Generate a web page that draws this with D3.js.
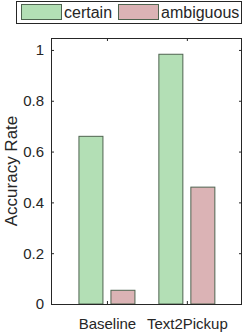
<!DOCTYPE html>
<html>
<head>
<meta charset="utf-8">
<script src="https://d3js.org/d3.v7.min.js"></script>
<style>
  body { margin: 0; background: #fff; }
  text { font-family: "Liberation Sans", Arial, sans-serif; fill: #262626; }
</style>
</head>
<body>
<div id="viz"></div>
<script>
var categories = ['Baseline', 'Text2Pickup'];
var series = ['certain', 'ambiguous'];
var certain = [0.66, 0.983];
var ambiguous = [0.054, 0.46];
var yTicks = [0, 0.2, 0.4, 0.6, 0.8, 1];

var width = 243,
    height = 332,
    plotLeft = 51,
    plotRight = 242,
    plotTop = 38,
    plotBottom = 304,
    barWidth = 24,
    barGap = 8;

var colors = ['#b3dfb5', '#dbb3b5'];
var edge = '#4f6450';

var values = [certain, ambiguous];

var xScale = d3.scaleLinear()
    .domain([0.3, 2.69])
    .range([plotLeft, plotRight]);

var yScale = d3.scaleLinear()
    .domain([0, 1.047])
    .range([plotBottom, plotTop]);

var svg = d3.select('#viz').append('svg')
    .attr('width', width)
    .attr('height', height);

// bars
series.forEach(function(s, si) {
  svg.append('g').selectAll('rect').data(values[si])
    .enter().append('rect')
      .attr('x', function(d, i) {
        var c = xScale(i + 1);
        return si === 0 ? c - barGap / 2 - barWidth : c + barGap / 2;
      })
      .attr('y', function(d) { return yScale(d); })
      .attr('width', barWidth)
      .attr('height', function(d) { return plotBottom - yScale(d); })
      .style('fill', colors[si])
      .style('stroke', edge)
      .style('stroke-width', 1);
});

// axes (ticks inside, box on)
var yAxis = d3.axisLeft(yScale).tickValues(yTicks).tickSize(-3).tickPadding(7)
    .tickFormat(function(d) { return d === 0 || d === 1 ? d : d3.format('.1f')(d); });
var gy = svg.append('g').attr('transform', 'translate(' + plotLeft + ',0)').call(yAxis);
gy.select('.domain').remove();
gy.selectAll('line').attr('stroke', '#262626');
gy.selectAll('text').style('font-size', '15px').style('fill', '#262626');

var gyr = svg.append('g').attr('transform', 'translate(' + plotRight + ',0)')
    .call(d3.axisRight(yScale).tickValues(yTicks).tickSize(-3).tickFormat(''));
gyr.select('.domain').remove();
gyr.selectAll('line').attr('stroke', '#262626');

var xAxis = d3.axisBottom(xScale).tickValues([1, 2]).tickSize(-3).tickPadding(14)
    .tickFormat(function(d) { return categories[d - 1]; });
var gx = svg.append('g').attr('transform', 'translate(0,' + plotBottom + ')').call(xAxis);
gx.select('.domain').remove();
gx.selectAll('line').attr('stroke', '#262626');
gx.selectAll('text').style('font-size', '15px').style('fill', '#262626');

var gxt = svg.append('g').attr('transform', 'translate(0,' + plotTop + ')')
    .call(d3.axisTop(xScale).tickValues([1, 2]).tickSize(-3).tickFormat(''));
gxt.select('.domain').remove();
gxt.selectAll('line').attr('stroke', '#262626');

svg.append('rect')
    .attr('x', plotLeft + 0.5).attr('y', plotTop + 0.5)
    .attr('width', plotRight - plotLeft - 1).attr('height', plotBottom - plotTop)
    .style('fill', 'none').style('stroke', '#262626').style('stroke-width', 1);

// y label
svg.append('text')
    .attr('transform', 'translate(17,' + ((plotTop + plotBottom) / 2) + ') rotate(-90)')
    .attr('text-anchor', 'middle')
    .style('font-size', '17px')
    .text('Accuracy Rate');

// legend
var legend = svg.append('g');
legend.append('rect')
    .attr('x', 16.5).attr('y', 1.5).attr('width', 225).attr('height', 22)
    .style('fill', '#fff').style('stroke', '#262626');
var legX = [21, 118];
series.forEach(function(s, si) {
  legend.append('rect')
    .attr('x', legX[si] + 0.5).attr('y', 4.5).attr('width', 40).attr('height', 15)
    .style('fill', colors[si]).style('stroke', edge);
  legend.append('text')
    .attr('x', legX[si] + 43).attr('y', 18)
    .style('font-size', '16px')
    .text(s);
});
</script>
</body>
</html>
